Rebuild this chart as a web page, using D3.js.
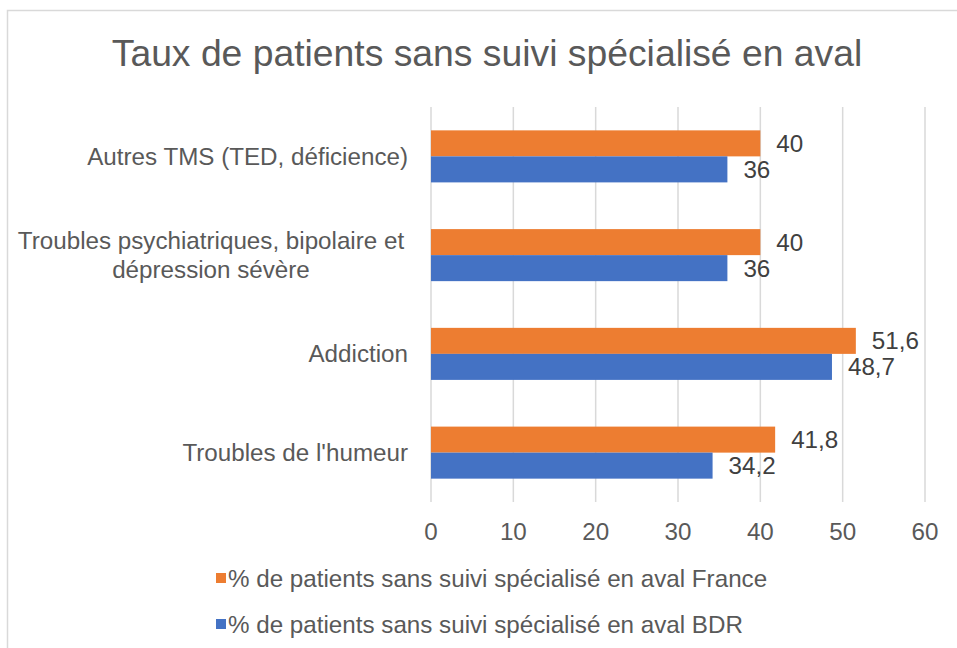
<!DOCTYPE html>
<html>
<head>
<meta charset="utf-8">
<script src="https://cdn.jsdelivr.net/npm/d3@7"></script>
<style>
  body { margin: 0; background: #fff; }
  text { font-family: "Liberation Sans", Arial, sans-serif; }
</style>
</head>
<body>
<svg class="chart"></svg>
<script>
const size = { w: 957, h: 648 };

// categories, top to bottom (wrapped labels as arrays of lines)
const categories = [
	["Autres TMS (TED, déficience)"],
	["Troubles psychiatriques, bipolaire et", "dépression sévère"],
	["Addiction"],
	["Troubles de l'humeur"],
];
const franceValues = [40, 40, 51.6, 41.8];
const bdrValues = [36, 36, 48.7, 34.2];
const seriesNames = [
	"% de patients sans suivi spécialisé en aval France",
	"% de patients sans suivi spécialisé en aval BDR",
];
const xTicks = [0, 10, 20, 30, 40, 50, 60];

const colors = { france: "#ED7D31", bdr: "#4472C4" };
const plot = { left: 431, right: 925, top: 107, bottom: 502 };
const fs = 24.2;

const svg = d3.select("svg.chart").attr("width", size.w).attr("height", size.h);

// chart frame (runs off the right/bottom edge like the reference)
svg.append("rect")
	.attr("x", 7.5).attr("y", 10.5)
	.attr("width", 980).attr("height", 680)
	.attr("fill", "#fff")
	.attr("stroke", "#d9d9d9")
	.attr("stroke-width", 1.5);

svg.append("text")
	.attr("x", 487)
	.attr("y", 66)
	.attr("text-anchor", "middle")
	.attr("font-size", 37.3)
	.attr("fill", "#595959")
	.text("Taux de patients sans suivi spécialisé en aval");

const x = d3.scaleLinear().domain([0, 60]).range([plot.left, plot.right]);
const y = d3.scaleBand()
	.domain(d3.range(categories.length))
	.range([plot.top, plot.bottom])
	.paddingInner(0.473)
	.paddingOuter(0.2365);
const ySub = d3.scaleBand().domain(["france", "bdr"]).range([0, y.bandwidth()]);

// gridlines
svg.append("g")
	.selectAll("line")
	.data(xTicks)
	.join("line")
	.attr("x1", (d) => x(d)).attr("x2", (d) => x(d))
	.attr("y1", plot.top).attr("y2", plot.bottom)
	.attr("stroke", "#d9d9d9")
	.attr("stroke-width", 1.5);

// x tick labels
svg.append("g")
	.selectAll("text")
	.data(xTicks)
	.join("text")
	.attr("x", (d) => x(d))
	.attr("y", 540)
	.attr("text-anchor", "middle")
	.attr("font-size", fs)
	.attr("fill", "#595959")
	.text((d) => d);

// bars
const rows = categories.map((c, i) => [
	{ key: "france", i: i, v: franceValues[i] },
	{ key: "bdr", i: i, v: bdrValues[i] },
]).flat();

svg.append("g")
	.selectAll("rect")
	.data(rows)
	.join("rect")
	.attr("x", x(0))
	.attr("y", (d) => y(d.i) + ySub(d.key))
	.attr("width", (d) => x(d.v) - x(0))
	.attr("height", ySub.bandwidth())
	.attr("fill", (d) => colors[d.key]);

// data labels
const fmt = (v) => String(v).replace(".", ",");
svg.append("g")
	.selectAll("text")
	.data(rows)
	.join("text")
	.attr("x", (d) => x(d.v) + 16)
	.attr("y", (d) => y(d.i) + ySub(d.key) + ySub.bandwidth() / 2 + 8.5)
	.attr("font-size", fs)
	.attr("fill", "#404040")
	.text((d) => fmt(d.v));

// category labels
const catG = svg.append("g")
	.selectAll("text")
	.data(categories)
	.join("text")
	.attr("font-size", fs)
	.attr("fill", "#595959")
	.attr("text-anchor", (d) => (d.length > 1 ? "middle" : "end"))
	.attr("x", (d) => (d.length > 1 ? 211 : 408))
	.attr("y", (d, i) => y(i) + y.bandwidth() / 2 + 8.5 - (d.length - 1) * 14.2);
catG.selectAll("tspan")
	.data((d) => d)
	.join("tspan")
	.attr("x", function () { return this.parentNode.getAttribute("x"); })
	.attr("dy", (d, j) => (j === 0 ? 0 : 28.4))
	.text((d) => d);

// legend
const legend = svg.append("g")
	.selectAll("g")
	.data(seriesNames)
	.join("g")
	.attr("transform", (d, i) => `translate(216, ${578 + i * 46})`);
legend.append("rect")
	.attr("x", 0).attr("y", -5)
	.attr("width", 10).attr("height", 10)
	.attr("fill", (d, i) => (i === 0 ? colors.france : colors.bdr));
legend.append("text")
	.attr("x", 12)
	.attr("y", 8.5)
	.attr("font-size", fs)
	.attr("fill", "#595959")
	.text((d) => d);
</script>
</body>
</html>
